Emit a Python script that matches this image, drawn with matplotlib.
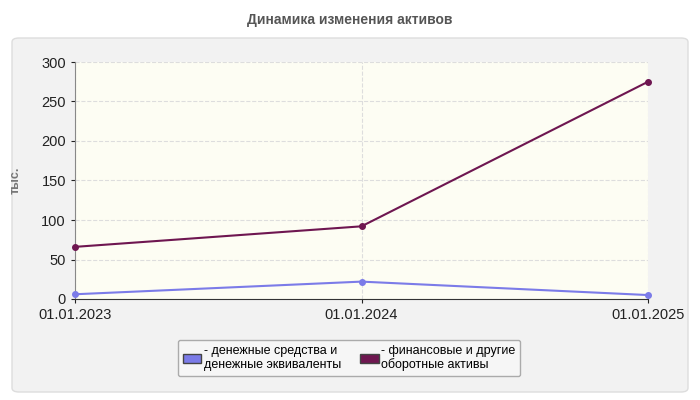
import matplotlib
matplotlib.use("Agg")
import matplotlib.pyplot as plt
from matplotlib.patches import FancyBboxPatch

plt.rcParams['font.family'] = ['Liberation Sans', 'DejaVu Sans']

dates = ["01.01.2023", "01.01.2024", "01.01.2025"]
cash = [6, 22, 5]
other = [66, 92, 275]
labels = ["денежные средства и\nденежные эквиваленты", "финансовые и другие\nоборотные активы"]

fig = plt.figure(figsize=(7, 4), dpi=100)
fig.patch.set_facecolor("white")
panel = FancyBboxPatch((12/700, 8/400), 676/700, 354/400, boxstyle="round,pad=0,rounding_size=0.01",
                       transform=fig.transFigure, facecolor="#f2f2f2", edgecolor="#dddddd", lw=1,
                       zorder=-10)
fig.patches.append(panel)
fig.text(0.5, 1-20/400, "Динамика изменения активов", ha="center", va="center",
         fontsize=10, fontweight="bold", color="#555555")

ax = fig.add_axes([75/700, 1-299/400, 573/700, 237/400])
ax.set_facecolor("#fdfdf3")
x = list(range(len(dates)))
ax.plot(x, cash, color="#7b7be8", lw=1.5, marker="o", ms=4, clip_on=False, zorder=3)
ax.plot(x, other, color="#6e1650", lw=1.5, marker="o", ms=4, clip_on=False, zorder=3)
ax.set_xlim(0, 2)
ax.set_ylim(0, 300)
ax.set_yticks(range(0, 301, 50))
ax.set_xticks(x)
ax.set_xticklabels(dates)
ax.grid(True, color="#dddddd", ls="--", lw=0.8)
for s in ["top", "right"]:
    ax.spines[s].set_visible(False)
ax.spines["left"].set_color("#888888")
ax.spines["bottom"].set_color("#333333")
ax.tick_params(labelsize=10.5, colors="#222222", length=3)
ax.set_ylabel("тыс.", fontsize=9, color="#777777", fontweight="bold", labelpad=14)

leg = fig.legend([plt.Rectangle((0, 0), 1, 1, fc="#7b7be8", ec="#444"),
                  plt.Rectangle((0, 0), 1, 1, fc="#6e1650", ec="#444")],
                 ["- " + l for l in labels], loc="center",
                 bbox_to_anchor=(349/700, 1-358/400), ncol=2, fontsize=9,
                 frameon=True, handlelength=1.5, handleheight=0.7, columnspacing=1.5,
                 handletextpad=0.2)
leg.get_frame().set_edgecolor("#999999")
leg.get_frame().set_facecolor("#f8f8f8")
fig.savefig("out.png", dpi=100)
